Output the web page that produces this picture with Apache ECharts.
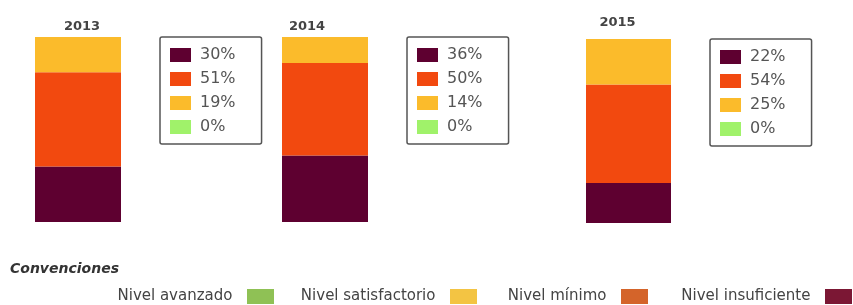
<!DOCTYPE html>
<html><head><meta charset="utf-8">
<script src="https://cdn.jsdelivr.net/npm/echarts@6/dist/echarts.min.js"></script>
<style>html,body{margin:0;padding:0;background:#fff}#c{width:853px;height:305px}</style>
</head><body><div id="c"></div>
<script>
const years = ['2013', '2014', '2015'];
const insuficiente = [30, 36, 22];
const minimo = [51, 50, 54];
const satisfactorio = [19, 14, 25];
const avanzado = [0, 0, 0];
const levelNames = ['Nivel insuficiente', 'Nivel mínimo', 'Nivel satisfactorio', 'Nivel avanzado'];
const conventionNames = ['Nivel avanzado', 'Nivel satisfactorio', 'Nivel mínimo', 'Nivel insuficiente'];

const levelValues = [insuficiente, minimo, satisfactorio, avanzado];
const barColors = ['#5e0030', '#f2490f', '#fbbb2b', '#a0f26a'];
const convColors = {'Nivel avanzado': '#8fc155', 'Nivel satisfactorio': '#f3c443', 'Nivel mínimo': '#d4642a', 'Nivel insuficiente': '#7b1734'};

const gridPos = [
  {left: 35, width: 86, top: 37, height: 185},
  {left: 282, width: 86, top: 37, height: 185},
  {left: 586, width: 85, top: 39, height: 184}
];
const labelPad = [[0, 0, 0, 8], [0, 36, 0, 0], [0, 22, 0, 0]];
const labelMargin = [4, 4, 10];
const legendPos = [{left: 160, top: 37}, {left: 407, top: 37}, {left: 710, top: 39}];
const convRight = [579, 376, 205, 1];

const valueByName = {};
const series = [];
years.forEach((y, i) => {
  levelNames.forEach((lv, k) => {
    const nm = y + ' ' + lv;
    valueByName[nm] = levelValues[k][i];
    series.push({
      type: 'bar', name: nm, stack: 's' + i, xAxisIndex: i, yAxisIndex: i,
      barWidth: '100%', data: [levelValues[k][i]],
      itemStyle: {color: barColors[k]}, emphasis: {disabled: true}
    });
  });
});
conventionNames.forEach(n => {
  series.push({type: 'bar', name: n, stack: 's0', barWidth: '100%', xAxisIndex: 0, yAxisIndex: 0, data: [], itemStyle: {color: convColors[n]}});
});

const legends = years.map((y, i) => ({
  orient: 'vertical', left: legendPos[i].left, top: legendPos[i].top,
  data: levelNames.map(lv => y + ' ' + lv),
  formatter: n => valueByName[n] + '%',
  icon: 'rect',
  itemWidth: 21, itemHeight: 14, itemGap: 8,
  padding: [10, 26, 9, 10],
  borderColor: '#555', borderWidth: 1.5, borderRadius: 2,
  textStyle: {fontFamily: 'DejaVu Sans', fontSize: 16, color: '#555', padding: [0, 0, 0, 4]},
  selectedMode: false
}));
conventionNames.forEach((n, j) => {
  legends.push({
    orient: 'horizontal', right: convRight[j], top: 289, align: 'right', padding: 0,
    data: [n], icon: 'rect',
    formatter: s => s + '  ',
    itemWidth: 27, itemHeight: 15,
    textStyle: {fontFamily: 'DejaVu Sans', fontSize: 15, color: '#444'},
    selectedMode: false
  });
});

const option = {
  animation: false,
  title: {text: 'Convenciones', left: 10, top: 262, padding: 0, textStyle: {fontFamily: 'DejaVu Sans', fontSize: 14, fontStyle: 'italic', fontWeight: 'bold', color: '#333'}},
  grid: gridPos,
  xAxis: years.map((y, i) => ({
    type: 'category', gridIndex: i, data: [y], position: 'top',
    axisLine: {show: false}, axisTick: {show: false}, splitLine: {show: false},
    axisLabel: {show: true, margin: labelMargin[i], padding: labelPad[i], fontFamily: 'DejaVu Sans', fontSize: 13, fontWeight: 'bold', color: '#444'}
  })),
  yAxis: years.map((y, i) => ({
    type: 'value', gridIndex: i, min: 0,
    max: insuficiente[i] + minimo[i] + satisfactorio[i] + avanzado[i],
    show: false
  })),
  legend: legends,
  series: series
};
echarts.init(document.getElementById('c')).setOption(option);
</script></body></html>
